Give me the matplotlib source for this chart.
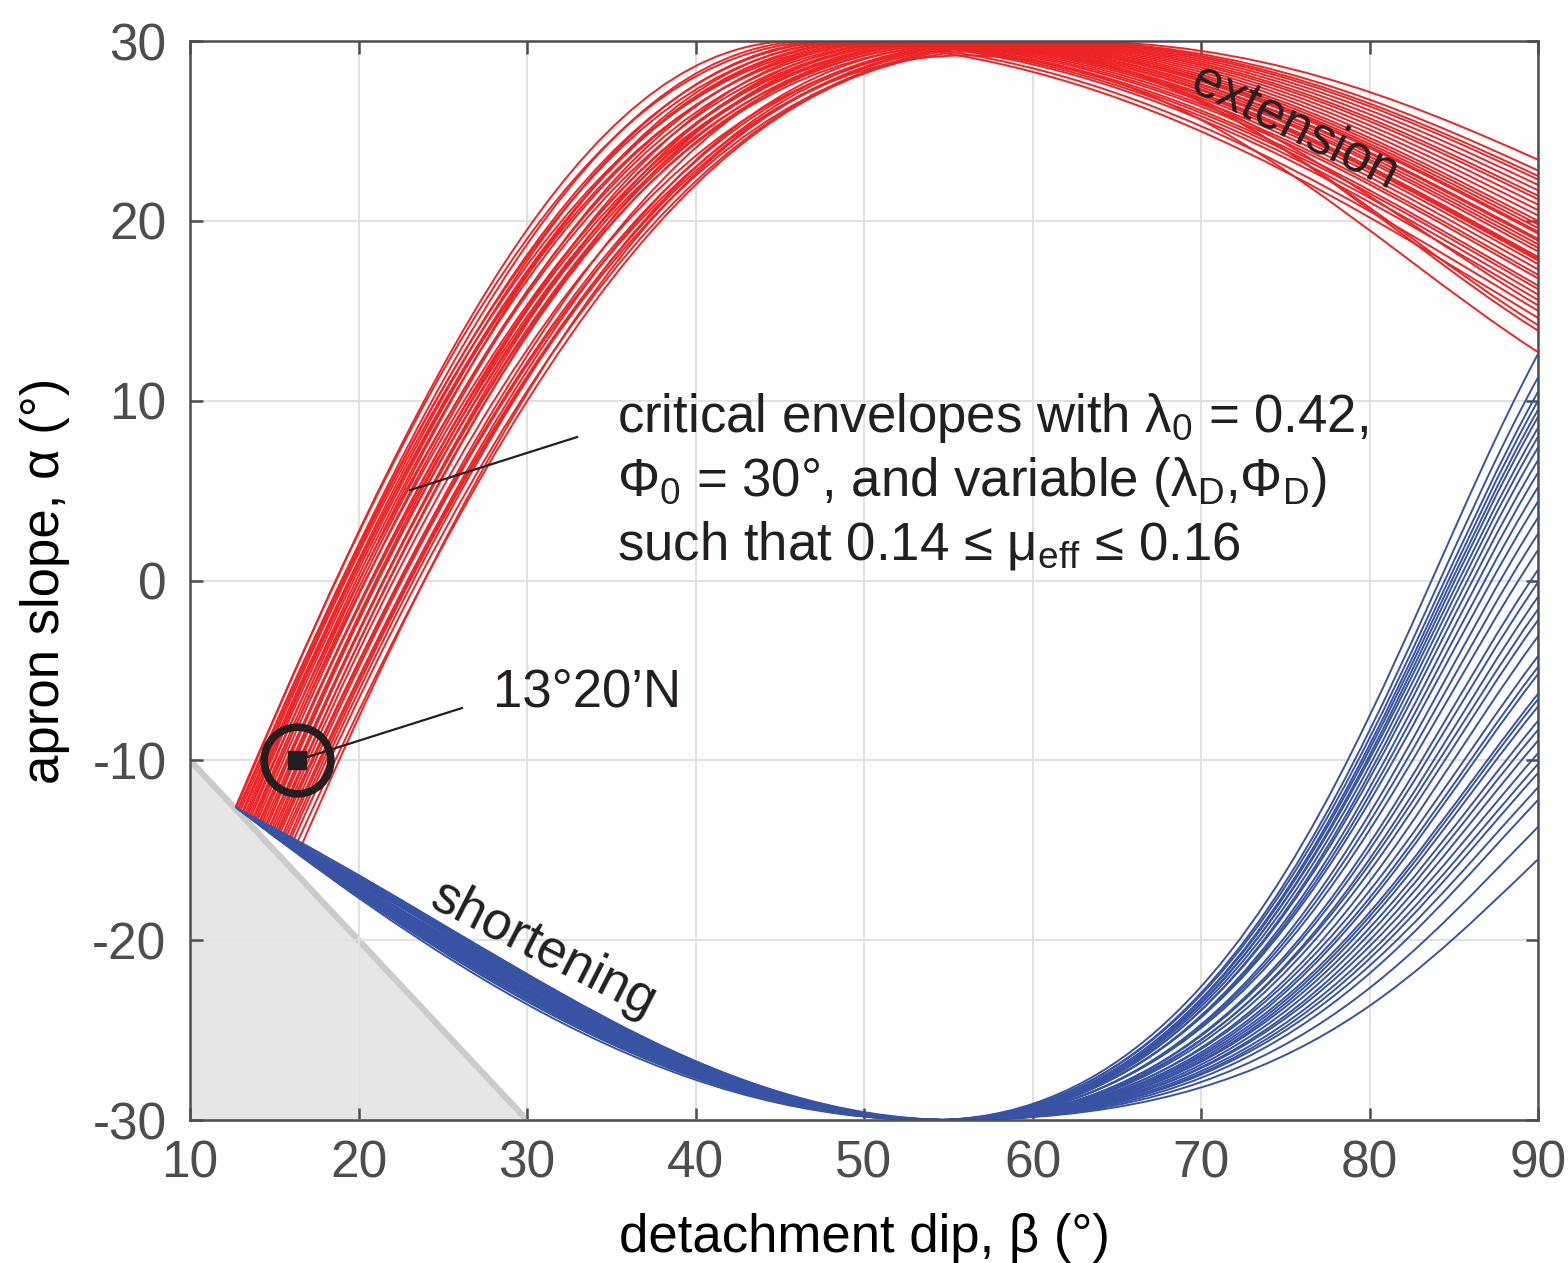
import matplotlib
matplotlib.use("Agg")
import matplotlib.pyplot as plt
from matplotlib.path import Path
from matplotlib.patches import PathPatch

plt.rcParams['font.family'] = ['Liberation Sans', 'DejaVu Sans']
plt.rcParams['axes.unicode_minus'] = False
plt.rcParams['mathtext.fontset'] = 'custom'
plt.rcParams['mathtext.rm'] = 'Liberation Sans'
plt.rcParams['mathtext.it'] = 'Liberation Sans:italic'

# --- envelope readings (beta = detachment dip, alpha = apron slope), degrees ---
# common start point of each red/blue envelope pair
start_beta = [12.7, 12.75, 12.85, 12.9, 13.0, 13.1, 13.15, 13.25, 13.35, 13.4,
              13.5, 13.6, 13.7, 13.75, 13.85, 13.95, 14.05, 14.1, 14.2, 14.3,
              14.4, 14.5, 14.6, 14.65, 14.75, 14.85, 14.95, 15.05, 15.1, 15.2,
              15.35, 15.45, 15.55, 15.7, 15.8, 15.95, 16.15, 16.4]
start_alpha = [-12.6, -12.65, -12.7, -12.75, -12.8, -12.9, -12.9, -13.0, -13.05, -13.1,
               -13.15, -13.2, -13.3, -13.35, -13.4, -13.45, -13.55, -13.6, -13.65, -13.7,
               -13.8, -13.85, -13.95, -13.95, -14.05, -14.1, -14.2, -14.25, -14.3, -14.35,
               -14.45, -14.5, -14.6, -14.7, -14.75, -14.85, -15.0, -15.2]

# extension (red) branch
red_rise_slope = [2.2, 2.25, 2.15, 2.2, 2.2, 2.25, 2.15, 2.2, 2.25, 2.2,
                  2.15, 2.25, 2.2, 2.15, 2.25, 2.2, 2.15, 2.2, 2.25, 2.15,
                  2.2, 2.25, 2.15, 2.2, 2.25, 2.15, 2.25, 2.2, 2.07, 2.12,
                  2.17, 2.07, 2.12, 2.17, 2.12, 2.12, 2.07, 2.17]
red_peak_beta = [46, 48, 47, 50, 49, 52, 48.5, 51, 53, 50.5,
                 54, 52.5, 49.5, 55, 53.5, 51.5, 56, 54.5, 57, 52,
                 55.5, 58, 53, 56.5, 59, 54, 57.5, 60, 55, 58.5,
                 61, 56, 59.5, 62, 57, 60.5, 58, 56]
red_peak_alpha = [30, 30, 30, 30, 30, 30, 30, 30, 30, 30,
                  30, 30, 30, 30, 30, 30, 30, 30, 30, 30,
                  30, 30, 30, 30, 30, 30, 30, 30, 30, 30,
                  30, 29.8, 30, 30, 29.7, 30, 29.5, 29.2]
red_end_alpha = [14.6, 15.6, 15.0, 16.8, 16.2, 17.8, 15.9, 17.3, 18.5, 17.0,
                 19.0, 18.0, 16.4, 19.6, 18.7, 17.6, 20.0, 19.3, 20.6, 17.9,
                 19.8, 21.2, 18.3, 20.3, 21.7, 18.9, 20.9, 22.3, 19.4, 21.4,
                 22.8, 15.3, 22.0, 23.4, 14.2, 22.5, 13.9, 12.7]

# shortening (blue) branch
blue_fall_slope = [-0.66, -0.52, -0.72, -0.47, -0.62, -0.5, -0.69, -0.56, -0.46, -0.64,
                   -0.53, -0.7, -0.58, -0.48, -0.67, -0.55, -0.61, -0.45, -0.65, -0.51,
                   -0.6, -0.47, -0.68, -0.54, -0.63, -0.49, -0.59, -0.62, -0.46, -0.56,
                   -0.66, -0.52, -0.61, -0.48, -0.57, -0.64, -0.53, -0.58]
blue_min_beta = [54.0, 54.2, 54.1, 54.4, 54.3, 54.6, 54.2, 54.5, 54.7, 54.4,
                 54.8, 54.6, 54.3, 54.9, 54.7, 54.5, 55.0, 54.8, 55.1, 54.6,
                 54.9, 55.2, 54.7, 55.0, 55.2, 54.8, 55.1, 55.3, 54.9, 55.2,
                 55.4, 55.0, 55.3, 55.5, 55.1, 55.4, 55.2, 55.0]
blue_min_alpha = -30
blue_end_alpha = [12.6, 11.3, 10.5, 10.0, 9.5, 9.1, 8.5, 8.0, 7.4, 6.7,
                  6.0, 5.2, 4.4, 3.5, 2.6, 1.7, 0.6, -0.1, -0.9, -1.6,
                  -2.2, -3.1, -4.2, -4.8, -5.2, -6.3, -6.6, -7.0, -7.8, -8.3,
                  -8.9, -9.6, -10.2, -10.7, -11.5, -12.2, -13.7, -15.5]
end_beta = 90

# alpha + beta < 0 region
wedge_beta = [10, 30, 10]
wedge_alpha = [-10, -30, -30]

site_beta, site_alpha = 16.35, -10.0
site_label = '13°20’N'

RED = '#EE2326'
BLUE = '#3953A4'
INK = '#231F20'
FRAME = '#4D4D4D'

fig = plt.figure(figsize=(15.68, 12.63), dpi=100)
ax = fig.add_axes([0.1212, 0.1132, 0.8597, 0.8543])

ax.fill(wedge_beta, wedge_alpha, color='#E6E6E6', lw=0, zorder=0.2)
ax.plot(wedge_beta[:2], wedge_alpha[:2], color='#CBCBCB', lw=4.5,
        solid_capstyle='butt', zorder=0.3)

codes = [Path.MOVETO] + [Path.CURVE4] * 6


def red_verts(b0, a0, s0, bp, ap, ae):
    # rise from the start point to the peak, then fall to the right edge
    L = bp - b0
    R = end_beta - bp
    se = 0.42 + 0.017 * (23.4 - ae)
    return [(b0, a0), (b0 + 0.38 * L, a0 + 0.38 * L * s0), (bp - 0.35 * L, ap), (bp, ap),
            (bp + 0.4 * R, ap), (end_beta - 0.3 * R, ae + 0.3 * R * se), (end_beta, ae)]


def blue_verts(b0, a0, s0, bm, am, ae):
    # fall from the start point to the minimum, then rise to the right edge
    L = bm - b0
    R = end_beta - bm
    sb = 0.9 + 0.03 * (ae + 15.5)
    return [(b0, a0), (b0 + 0.35 * L, a0 + 0.35 * L * s0), (bm - 0.35 * L, am), (bm, am),
            (bm + 0.55 * R, am), (end_beta - 0.25 * R, ae - 0.25 * R * sb), (end_beta, ae)]


for i in range(len(start_beta)):
    v = red_verts(start_beta[i], start_alpha[i], red_rise_slope[i],
                  red_peak_beta[i], red_peak_alpha[i], red_end_alpha[i])
    ax.add_patch(PathPatch(Path(v, codes), fill=False, edgecolor=RED, lw=1.4, zorder=2))

for i in range(len(start_beta)):
    v = blue_verts(start_beta[i], start_alpha[i], blue_fall_slope[i], blue_min_beta[i],
                   blue_min_alpha, blue_end_alpha[i])
    ax.add_patch(PathPatch(Path(v, codes), fill=False, edgecolor=BLUE, lw=1.4, zorder=2.1))

# marker for the site
ax.plot(site_beta, site_alpha, 'o', ms=48, mfc='none', mec=INK, mew=5.5, zorder=4)
ax.plot(site_beta, site_alpha, 's', ms=13, mfc=INK, mec=INK, zorder=4)
ax.plot([16.94, 26.14], [-9.82, -7.09], color=INK, lw=1.6, zorder=4)
ax.text(27.98, -6.2, site_label, fontsize=38, color=INK, va='center', ha='left')

# envelope note
ax.plot([23.06, 32.97], [5.03, 7.98], color=INK, lw=1.6, zorder=4)
ax.text(35.34, 9.04, 'critical envelopes with λ$_0$ = 0.42,', fontsize=38,
        color=INK, va='center', ha='left')
ax.text(35.34, 5.48, 'Φ$_0$ = 30°, and variable (λ$_\\mathrm{D}$,Φ$_\\mathrm{D}$)', fontsize=38,
        color=INK, va='center', ha='left')
ax.text(35.34, 1.97, 'such that 0.14 ≤ μ$_\\mathrm{eff}$ ≤ 0.16', fontsize=38,
        color=INK, va='center', ha='left')

ax.text(75.6, 25.2, 'extension', fontsize=38, color=INK, rotation=-26.5,
        rotation_mode='anchor', ha='center', va='center', zorder=5)
ax.text(30.95, -20.55, 'shortening', fontsize=38, color=INK, rotation=-27,
        rotation_mode='anchor', ha='center', va='center', zorder=5)

ax.set_xlim(10, 90)
ax.set_ylim(-30, 30)
ax.set_xticks(range(10, 91, 10))
ax.set_yticks(range(-30, 31, 10))
ax.set_axisbelow(True)
ax.grid(True, color='#E1E1E1', lw=1.4)
ax.tick_params(direction='in', length=9, width=1.8, colors=FRAME, labelsize=37,
               top=True, right=True, pad=14)
ax.tick_params(axis='y', pad=17)
for s in ax.spines.values():
    s.set_color(FRAME)
    s.set_linewidth(1.8)
    s.set_zorder(6)

ax.set_xlabel('detachment dip, β (°)', fontsize=38, color='black', labelpad=18)
ax.set_ylabel('apron slope, α (°)', fontsize=38, color='black', labelpad=16)

fig.savefig('out.png', dpi=100)
